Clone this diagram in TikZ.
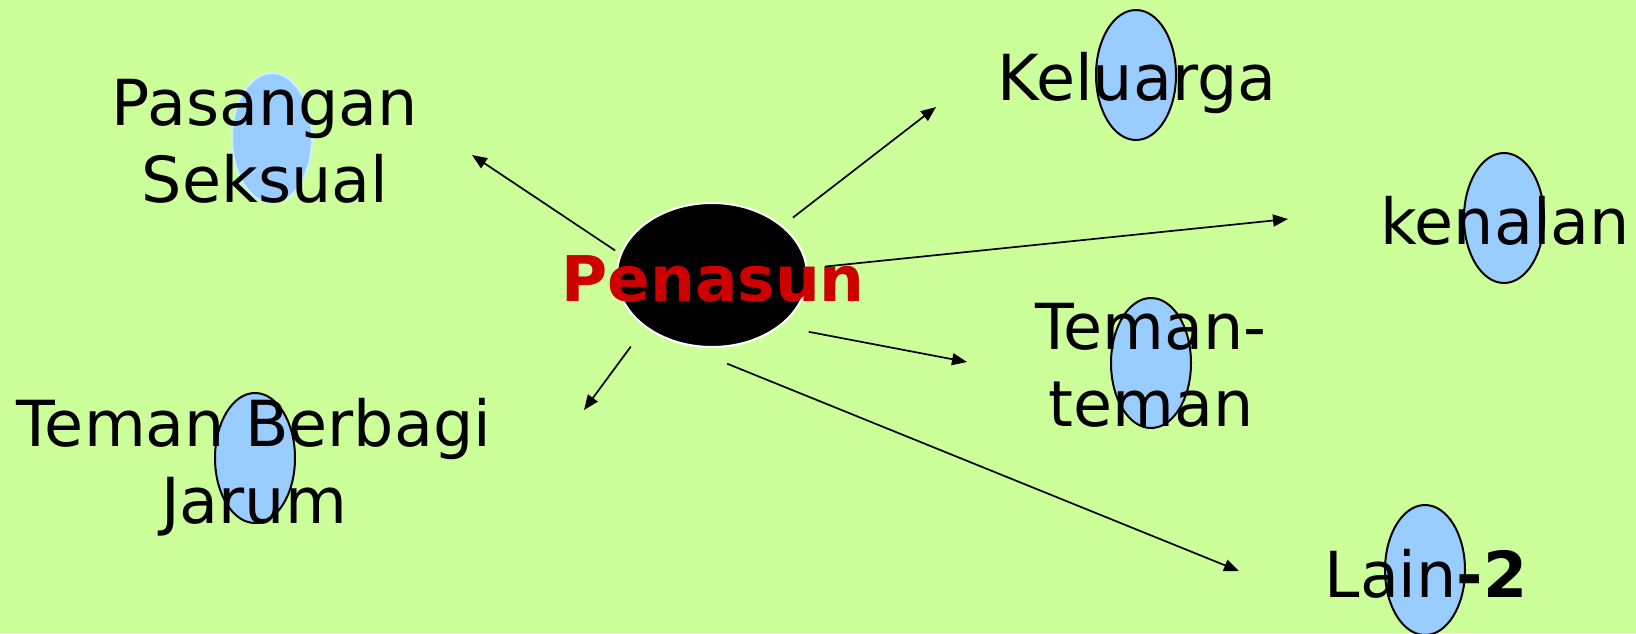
\documentclass[tikz,border=0pt]{standalone}
\usepackage{fontspec}
\setmainfont{DejaVu Sans}
\usetikzlibrary{shapes.geometric, arrows.meta}
\definecolor{pnbg}{RGB}{204,255,153}
\definecolor{pnblue}{RGB}{153,204,255}
\definecolor{pnpale}{RGB}{204,238,255}
\definecolor{pnred}{RGB}{204,0,0}

\begin{document}
\begin{tikzpicture}[x=1pt, y=-1pt,
  blob/.style={ellipse, fill=pnblue, draw=black, line width=2pt, inner sep=0pt, minimum width=80pt, minimum height=130pt},
  hub/.style={ellipse, fill=black, draw=white, line width=2pt, inner sep=0pt, minimum width=190pt, minimum height=144pt},
  lbl/.style={anchor=base, align=center, inner sep=0pt, font=\fontsize{63.5}{77}\selectfont},
  arr/.style={-{Triangle[length=15pt, width=12pt]}, line width=1.7pt}
]
\fill[pnbg] (0,0) rectangle (1636,633);
\useasboundingbox (0,0) rectangle (1636,633);

% ovals behind the labels
\node[blob, draw=pnpale] (ovpasangan) at (272,138) {};
\node[blob] (ovjarum) at (255,458) {};
\node[blob] (ovkeluarga) at (1136,75) {};
\node[blob] (ovkenalan) at (1504,218) {};
\node[blob] (ovteman) at (1151,363) {};
\node[blob] (ovlain) at (1425,570) {};
\node[hub] (pen) at (712,275) {};

% labels (base = last line)
\node[lbl] (pasangan) at (265,202) {Pasangan\\Seksual};
\node[lbl] (jarum) at (254,523) {Teman Berbagi\\Jarum};
\node[lbl] (keluarga) at (1137,100) {Keluarga};
\node[lbl] (kenalan) at (1505,244) {kenalan};
\node[lbl] (teman) at (1151,426) {Teman-\\teman};
\node[lbl] (lain) at (1426,597) {Lain\textbf{-2}};
\node[lbl, font=\fontsize{63}{76}\selectfont\bfseries, text=pnred] (pentxt) at (713,301) {Penasun};

% arrow tips
\coordinate (topasangan) at (472,155);
\coordinate (tojarum) at (584,410);
\coordinate (tokeluarga) at (936,107);
\coordinate (tokenalan) at (1288,219);
\coordinate (toteman) at (967,362);
\coordinate (tolain) at (1239,571);

\draw[arr, shorten <=6pt] (pen.167) -- (topasangan);
\draw[arr, shorten <=24pt] (pen.218) -- (tojarum);
\draw[arr, shorten <=13pt] (pen.35) -- (tokeluarga);
\draw[arr, shorten <=17.6pt] (pen.4.4) -- (tokenalan);
\draw[arr, shorten <=29pt] (pen.323) -- (toteman);
\draw[arr, shorten <=59.5pt] (pen.239) -- (tolain);
\end{tikzpicture}
\end{document}
